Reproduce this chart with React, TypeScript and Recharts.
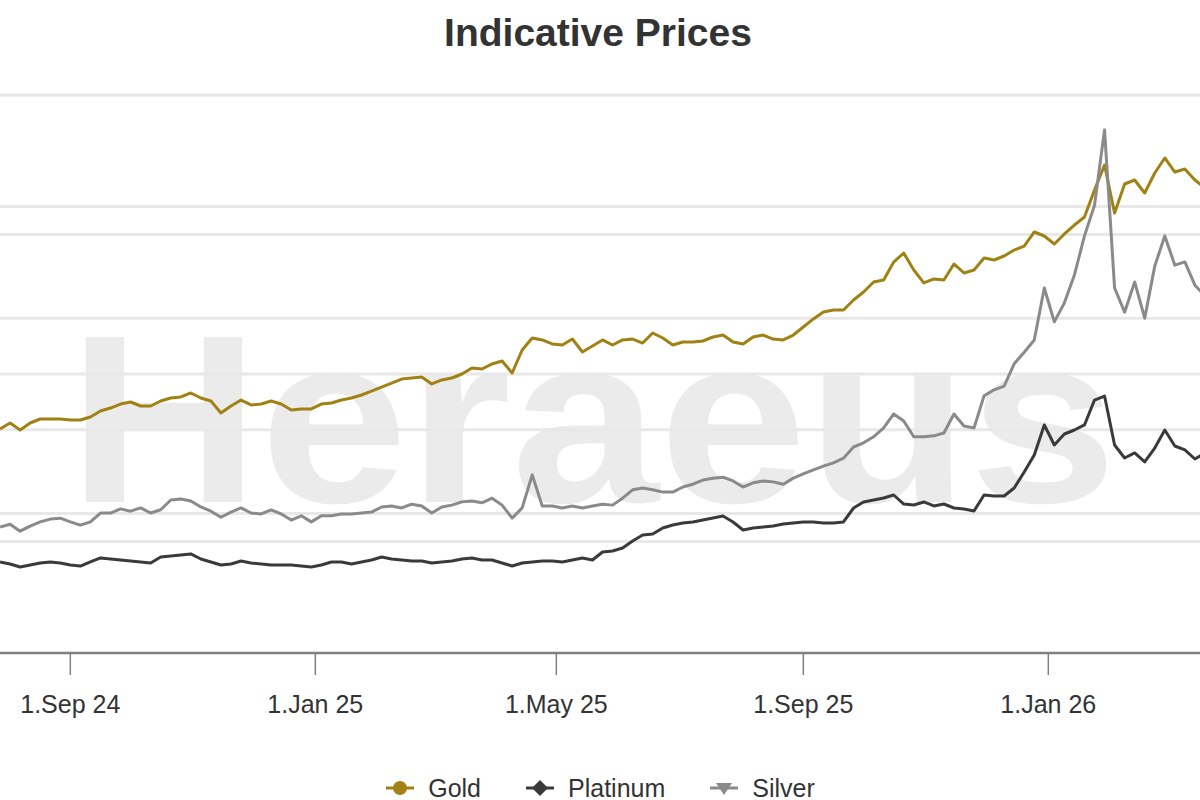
import React from 'react';
import { LineChart, Line, XAxis, YAxis, ReferenceLine, Legend } from 'recharts';

// sample dates (every 5 days)
const dates = [
  '2024-07-28', '2024-08-02', '2024-08-07', '2024-08-12', '2024-08-17', '2024-08-22', '2024-08-27', '2024-09-01', '2024-09-06', '2024-09-11',
  '2024-09-16', '2024-09-21', '2024-09-26', '2024-10-01', '2024-10-06', '2024-10-11', '2024-10-16', '2024-10-21', '2024-10-26', '2024-10-31',
  '2024-11-05', '2024-11-10', '2024-11-15', '2024-11-20', '2024-11-25', '2024-11-30', '2024-12-05', '2024-12-10', '2024-12-15', '2024-12-20',
  '2024-12-25', '2024-12-30', '2025-01-04', '2025-01-09', '2025-01-14', '2025-01-19', '2025-01-24', '2025-01-29', '2025-02-03', '2025-02-08',
  '2025-02-13', '2025-02-18', '2025-02-23', '2025-02-28', '2025-03-05', '2025-03-10', '2025-03-15', '2025-03-20', '2025-03-25', '2025-03-30',
  '2025-04-04', '2025-04-09', '2025-04-14', '2025-04-19', '2025-04-24', '2025-04-29', '2025-05-04', '2025-05-09', '2025-05-14', '2025-05-19',
  '2025-05-24', '2025-05-29', '2025-06-03', '2025-06-08', '2025-06-13', '2025-06-18', '2025-06-23', '2025-06-28', '2025-07-03', '2025-07-08',
  '2025-07-13', '2025-07-18', '2025-07-23', '2025-07-28', '2025-08-02', '2025-08-07', '2025-08-12', '2025-08-17', '2025-08-22', '2025-08-27',
  '2025-09-01', '2025-09-06', '2025-09-11', '2025-09-16', '2025-09-21', '2025-09-26', '2025-10-01', '2025-10-06', '2025-10-11', '2025-10-16',
  '2025-10-21', '2025-10-26', '2025-10-31', '2025-11-05', '2025-11-10', '2025-11-15', '2025-11-20', '2025-11-25', '2025-11-30', '2025-12-05',
  '2025-12-10', '2025-12-15', '2025-12-20', '2025-12-25', '2025-12-30', '2026-01-04', '2026-01-09', '2026-01-14', '2026-01-19', '2026-01-24',
  '2026-01-29', '2026-02-03', '2026-02-08', '2026-02-13', '2026-02-18', '2026-02-23', '2026-02-28', '2026-03-05', '2026-03-10', '2026-03-15',
  '2026-03-20',
];

const gold = [
  2409, 2473, 2398, 2473, 2516, 2516, 2516, 2505, 2505, 2538,
  2602, 2634, 2677, 2699, 2656, 2656, 2710, 2742, 2753, 2796,
  2742, 2710, 2581, 2656, 2720, 2667, 2677, 2710, 2677, 2613,
  2624, 2624, 2677, 2688, 2720, 2742, 2774, 2817, 2860, 2903,
  2946, 2957, 2968, 2893, 2936, 2957, 3000, 3065, 3054, 3108,
  3140, 3011, 3258, 3387, 3366, 3323, 3312, 3376, 3237, 3301,
  3366, 3312, 3366, 3376, 3333, 3441, 3387, 3312, 3344, 3344,
  3355, 3398, 3419, 3344, 3323, 3398, 3419, 3376, 3366, 3419,
  3505, 3592, 3667, 3688, 3688, 3796, 3882, 3989, 4011, 4204,
  4301, 4118, 3979, 4022, 4011, 4183, 4086, 4118, 4247, 4226,
  4269, 4333, 4376, 4527, 4484, 4398, 4506, 4602, 4688, 4979,
  5247, 4731, 5043, 5086, 4946, 5161, 5323, 5172, 5204, 5086,
  5000,
];

const platinum = [
  979, 957, 925, 946, 968, 979, 968, 946, 935, 979,
  1022, 1011, 1000, 989, 979, 968, 1032, 1043, 1054, 1065,
  1011, 979, 946, 957, 989, 968, 957, 946, 946, 946,
  935, 925, 946, 979, 979, 957, 979, 1000, 1032, 1011,
  1000, 989, 989, 968, 979, 989, 1011, 1022, 1000, 1000,
  968, 935, 968, 979, 989, 989, 979, 1000, 1022, 1000,
  1086, 1097, 1129, 1204, 1269, 1280, 1344, 1376, 1398, 1409,
  1430, 1452, 1473, 1409, 1323, 1344, 1355, 1366, 1387, 1398,
  1409, 1409, 1398, 1398, 1409, 1559, 1624, 1645, 1667, 1699,
  1602, 1591, 1624, 1581, 1602, 1559, 1548, 1527, 1699, 1688,
  1688, 1774, 1946, 2129, 2452, 2237, 2355, 2398, 2452, 2720,
  2763, 2237, 2097, 2151, 2054, 2204, 2398, 2226, 2183, 2086,
  2151,
];

const silver = [
  27.1, 27.7, 26.2, 27.3, 28.2, 28.8, 29.0, 28.2, 27.5, 28.2,
  30.1, 30.1, 31.0, 30.5, 31.2, 30.1, 30.8, 32.9, 33.1, 32.7,
  31.4, 30.5, 29.2, 30.3, 31.2, 30.1, 29.9, 30.8, 29.9, 28.6,
  29.5, 28.2, 29.5, 29.5, 29.9, 29.9, 30.1, 30.3, 31.4, 31.6,
  31.2, 32.0, 31.6, 30.1, 31.4, 31.8, 32.5, 32.7, 32.3, 33.3,
  31.8, 29.0, 31.2, 38.3, 31.6, 31.6, 31.2, 31.6, 31.2, 31.6,
  32.0, 31.8, 33.3, 35.1, 35.5, 35.1, 34.6, 34.6, 35.7, 36.3,
  37.2, 37.6, 37.8, 37.0, 35.7, 36.6, 37.0, 36.8, 36.3, 37.6,
  38.5, 39.4, 40.2, 40.9, 41.9, 44.3, 45.2, 46.5, 48.4, 51.4,
  49.9, 46.5, 46.5, 46.7, 47.3, 51.4, 48.8, 48.4, 55.3, 56.6,
  57.4, 62.2, 64.7, 67.3, 78.5, 71.2, 75.3, 81.3, 89.7, 96.3,
  112.5, 78.5, 73.3, 79.8, 72.0, 83.2, 89.7, 83.4, 84.1, 79.1,
  76.8,
];

const xTickDates = ['2024-09-01', '2025-01-01', '2025-05-01', '2025-09-01', '2026-01-01'];
const xRange = ['2024-07-23', '2026-03-25'];
const metalTicks = [0, 1200, 2400, 3600, 4800, 6000];
const silverTicks = [0, 30, 60, 90, 120];
const monthNames = ['Jan', 'Feb', 'Mar', 'Apr', 'May', 'Jun', 'Jul', 'Aug', 'Sep', 'Oct', 'Nov', 'Dec'];

const series = [
  { key: 'gold', name: 'Gold', color: '#a08214', axis: 'metal', marker: 'circle' },
  { key: 'platinum', name: 'Platinum', color: '#3a3a3a', axis: 'metal', marker: 'diamond' },
  { key: 'silver', name: 'Silver', color: '#8a8a8a', axis: 'silver', marker: 'triangle' },
];

const FONT = "'Liberation Sans', Arial, Helvetica, sans-serif";
const GRID = '#e8e8e8';

const toTime = (d: string) => {
  const [y, m, day] = d.split('-').map(Number);
  return Date.UTC(y, m - 1, day);
};

const formatTick = (t: number) => {
  const d = new Date(t);
  return `1.${monthNames[d.getUTCMonth()]} ${String(d.getUTCFullYear()).slice(2)}`;
};

const data = dates.map((d, i) => ({
  t: toTime(d),
  gold: gold[i],
  platinum: platinum[i],
  silver: silver[i],
}));

function Marker({ type, color }: { type: string; color: string }) {
  if (type === 'circle') return <circle cx={14} cy={14} r={7} fill={color} />;
  if (type === 'diamond') return <path d="M14 6 L22 14 L14 22 L6 14 Z" fill={color} />;
  return <path d="M6 9 L22 9 L14 21 Z" fill={color} />;
}

function LegendContent() {
  return (
    <div
      style={{
        display: 'flex',
        justifyContent: 'center',
        gap: 45,
        fontFamily: FONT,
        fontSize: 25,
        color: '#333',
        paddingRight: 4,
      }}
    >
      {series.map((s) => (
        <div key={s.key} style={{ display: 'flex', alignItems: 'center' }}>
          <svg width={28} height={28}>
            <line x1={0} y1={14} x2={28} y2={14} stroke={s.color} strokeWidth={3} />
            <Marker type={s.marker} color={s.color} />
          </svg>
          <span style={{ marginLeft: 14, lineHeight: '25px' }}>{s.name}</span>
        </div>
      ))}
    </div>
  );
}

export default function App() {
  return (
    <div
      style={{
        position: 'fixed',
        left: 0,
        top: 0,
        width: 1200,
        height: 800,
        overflow: 'hidden',
        background: '#fff',
      }}
    >
      <svg width={1200} height={800} style={{ position: 'absolute', left: 0, top: 0 }}>
        <text
          x={68}
          y={502}
          textLength={1049}
          lengthAdjust="spacingAndGlyphs"
          fontFamily={FONT}
          fontWeight="bold"
          fontSize={240}
          fill="#ebebeb"
        >
          Heraeus
        </text>
        <text
          x={598}
          y={46}
          textAnchor="middle"
          fontFamily={FONT}
          fontWeight="bold"
          fontSize={39}
          fill="#333"
        >
          Indicative Prices
        </text>
      </svg>
      <div style={{ position: 'absolute', left: -10, top: 0 }}>
        <LineChart width={1225} height={800} data={data} margin={{ top: 95, right: 0, bottom: 87, left: 0 }}>
          <XAxis
            dataKey="t"
            type="number"
            domain={[toTime(xRange[0]), toTime(xRange[1])]}
            ticks={xTickDates.map(toTime)}
            tickFormatter={formatTick}
            interval={0}
            allowDataOverflow
            height={60}
            tickSize={22}
            tickMargin={20}
            axisLine={{ stroke: '#808080', strokeWidth: 2.5 }}
            tickLine={{ stroke: '#808080', strokeWidth: 1.5 }}
            tick={{ fill: '#333', fontSize: 25, fontFamily: FONT }}
          />
          <YAxis
            yAxisId="metal"
            domain={[0, 6000]}
            ticks={metalTicks}
            width={0}
            tick={false}
            axisLine={false}
            tickLine={false}
          />
          <YAxis
            yAxisId="silver"
            orientation="right"
            domain={[0, 120]}
            ticks={silverTicks}
            width={0}
            tick={false}
            axisLine={false}
            tickLine={false}
          />
          {/* horizontal gridlines of both y axes */}
          {metalTicks.slice(1).map((v) => (
            <ReferenceLine key={`m${v}`} yAxisId="metal" y={v} stroke={GRID} strokeWidth={3} />
          ))}
          {silverTicks.slice(1, -1).map((v) => (
            <ReferenceLine key={`s${v}`} yAxisId="silver" y={v} stroke={GRID} strokeWidth={3} />
          ))}
          <Legend
            layout="horizontal"
            verticalAlign="middle"
            align="center"
            wrapperStyle={{ top: 774, left: 0, width: 1225 }}
            content={() => <LegendContent />}
          />
          {series.map((s) => (
            <Line
              key={s.key}
              yAxisId={s.axis}
              type="linear"
              dataKey={s.key}
              name={s.name}
              stroke={s.color}
              strokeWidth={3}
              strokeLinejoin="round"
              dot={false}
              activeDot={false}
              isAnimationActive={false}
            />
          ))}
        </LineChart>
      </div>
    </div>
  );
}
